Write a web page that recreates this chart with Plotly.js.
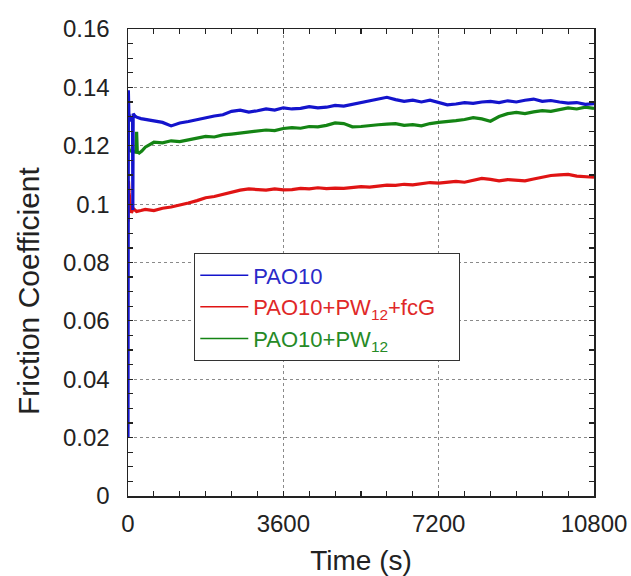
<!DOCTYPE html>
<html>
<head>
<meta charset="utf-8">
<script src="https://cdn.plot.ly/plotly-3.0.1.min.js"></script>
<style>html,body{margin:0;padding:0;background:#fff;}#chart{width:631px;height:576px;}</style>
</head>
<body>
<div id="chart"></div>
<script>
// Shared time grid (s) after the initial transient
const timeMain = [400,600,800,1000,1200,1400,1600,1800,2000,2200,2400,2600,2800,3000,3200,3400,3600,3800,4000,4200,4400,4600,4800,5000,5200,5400,5600,5800,6000,6200,6400,6600,6800,7000,7200,7400,7600,7800,8000,8200,8400,8600,8800,9000,9200,9400,9600,9800,10000,10200,10400,10600,10800];

// PAO10 (blue)
const blueTimeStart = [0,8,20,50,90,105,112,120,160,200,300];
const blueStart = [0.020,0.139,0.131,0.1292,0.1285,0.1300,0.098,0.131,0.1302,0.1298,0.1293];
const blueMain = [0.1290,0.1285,0.1280,0.1268,0.1278,0.1283,0.1290,0.1296,0.1302,0.1306,0.1318,0.1322,0.1315,0.1320,0.1326,0.1322,0.1330,0.1326,0.1328,0.1334,0.1330,0.1332,0.1338,0.1336,0.1342,0.1346,0.1354,0.1360,0.1366,0.1358,0.1352,0.1356,0.1350,0.1356,0.1348,0.1340,0.1343,0.1348,0.1345,0.1350,0.1352,0.1348,0.1354,0.1350,0.1356,0.1360,0.1352,0.1355,0.1350,0.1346,0.1348,0.1342,0.1344];

// PAO10+PW12+fcG (red)
const redTimeStart = [0,10,25,50,80,120,200,300];
const redStart = [0.094,0.108,0.104,0.100,0.097,0.0985,0.0975,0.0978];
const redMain = [0.0982,0.0978,0.0986,0.0990,0.0996,0.1004,0.1012,0.1022,0.1026,0.1034,0.1042,0.1048,0.1052,0.1050,0.1048,0.1052,0.1049,0.1050,0.1054,0.1052,0.1056,0.1053,0.1055,0.1054,0.1058,0.1060,0.1058,0.1062,0.1065,0.1064,0.1068,0.1066,0.1070,0.1074,0.1072,0.1076,0.1078,0.1075,0.1082,0.1088,0.1085,0.1080,0.1084,0.1082,0.1080,0.1086,0.1092,0.1098,0.1100,0.1102,0.1096,0.1094,0.1092];

// PAO10+PW12 (green)
const greenTimeStart = [0,10,30,100,180,200,215,260,320];
const greenStart = [0.135,0.120,0.1185,0.1180,0.1178,0.1248,0.1180,0.1175,0.1182];
const greenMain = [0.1195,0.1212,0.1210,0.1217,0.1214,0.1220,0.1226,0.1232,0.1230,0.1237,0.1240,0.1244,0.1248,0.1250,0.1254,0.1252,0.1259,0.1262,0.1260,0.1266,0.1265,0.1270,0.1278,0.1276,0.1265,0.1266,0.1270,0.1272,0.1274,0.1276,0.1270,0.1272,0.1268,0.1276,0.1280,0.1282,0.1286,0.1290,0.1296,0.1292,0.1284,0.1300,0.1310,0.1314,0.1310,0.1316,0.1320,0.1318,0.1324,0.1330,0.1326,0.1332,0.1328];

const seriesNames = ['PAO10',
  'PAO10+PW<sub>12</sub>+fcG&nbsp;&nbsp;&nbsp;',
  'PAO10+PW<sub>12</sub>'];
const lineColors = ['#1414cc','#e01414','#148414'];
const textColors = ['#2a2ac8','#e02828','#268a26'];

const series = [
  {t: blueTimeStart.concat(timeMain), v: blueStart.concat(blueMain)},
  {t: redTimeStart.concat(timeMain), v: redStart.concat(redMain)},
  {t: greenTimeStart.concat(timeMain), v: greenStart.concat(greenMain)}
];

const traces = [];
// data traces (green, red, then blue on top)
[2,1,0].forEach(i => {
  traces.push({x: series[i].t, y: series[i].v, type: 'scatter', mode: 'lines',
    line: {color: lineColors[i], width: 3.2}, showlegend: false, hoverinfo: 'skip'});
});
// legend entries with thin lines
[0,1,2].forEach(i => {
  traces.push({x: [null], y: [null], type: 'scatter', mode: 'lines',
    name: '<span style="color:' + textColors[i] + '">' + seriesNames[i] + '</span>',
    line: {color: lineColors[i], width: 1.5}, showlegend: true});
});

const fontFam = 'Arial, "Liberation Sans", sans-serif';
const layout = {
  width: 631, height: 576,
  margin: {l: 128, r: 37, t: 29, b: 80},
  paper_bgcolor: '#fff', plot_bgcolor: '#fff',
  font: {family: fontFam, color: '#222'},
  showlegend: true,
  legend: {x: 0.1416, y: 0.52, xanchor: 'left', yanchor: 'top',
    bgcolor: '#fff', bordercolor: '#333', borderwidth: 1.3,
    font: {size: 22, family: fontFam}, itemwidth: 48, tracegroupgap: 0},
  annotations: [{
    text: 'Friction Coefficient', textangle: -90,
    xref: 'paper', yref: 'paper', x: -0.2146, y: 0.441,
    xanchor: 'center', yanchor: 'middle', showarrow: false,
    font: {size: 30, family: fontFam, color: '#222'}
  }],
  xaxis: {
    range: [0, 10800], tickvals: [0,3600,7200,10800], ticktext: ['0','3600','7200','10800'],
    ticks: 'inside', ticklen: 5, tickcolor: '#222', tickwidth: 1.2,
    minor: {dtick: 600, ticks: 'inside', ticklen: 5, tickcolor: '#222', showgrid: false},
    showline: true, linecolor: '#222', linewidth: 1.5, mirror: 'allticks',
    showgrid: true, gridcolor: '#8a8a8a', griddash: 'dot', gridwidth: 1,
    zeroline: false, tickfont: {size: 24}, ticklabelstandoff: 6,
    title: {text: 'Time (s)', font: {size: 28}, standoff: 16}
  },
  yaxis: {
    range: [0, 0.16], tickvals: [0,0.02,0.04,0.06,0.08,0.1,0.12,0.14,0.16],
    ticktext: ['0','0.02','0.04','0.06','0.08','0.1','0.12','0.14','0.16'],
    ticks: 'inside', ticklen: 5, tickcolor: '#222', tickwidth: 1.2,
    minor: {dtick: 0.005, ticks: 'inside', ticklen: 5, tickcolor: '#222', showgrid: false},
    showline: true, linecolor: '#222', linewidth: 1.5, mirror: 'allticks',
    showgrid: true, gridcolor: '#8a8a8a', griddash: 'dot', gridwidth: 1,
    zeroline: false, tickfont: {size: 24}, ticklabelstandoff: 12
  }
};

Plotly.newPlot('chart', traces, layout, {staticPlot: true, displayModeBar: false});
</script>
</body>
</html>
